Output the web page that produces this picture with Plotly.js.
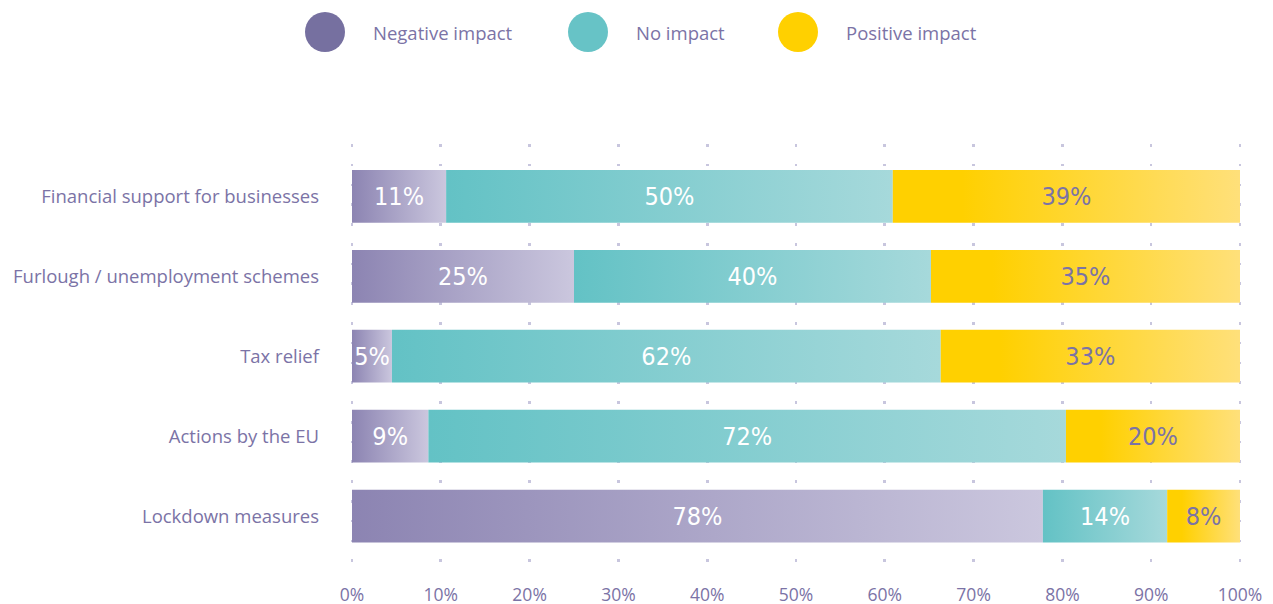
<!DOCTYPE html>
<html>
<head>
<meta charset="utf-8">
<script src="https://cdn.plot.ly/plotly-3.0.1.min.js"></script>
<style>html,body{margin:0;padding:0;background:#fff;}#chart{width:1273px;height:604px;}</style>
</head>
<body>
<div id="chart"></div>
<script>
// ---- data ----
const categories = ["Financial support for businesses", "Furlough / unemployment schemes", "Tax relief", "Actions by the EU", "Lockdown measures"];
const seriesNames = ["Negative impact", "No impact", "Positive impact"];
const negativeValues = [10.6, 25.0, 4.5, 8.6, 77.8];
const noImpactValues = [50.3, 40.2, 61.8, 71.8, 14.0];
const positiveValues = [39.1, 34.8, 33.7, 19.6, 8.2];
const negativeLabels = ["11%", "25%", "5%", "9%", "78%"];
const noImpactLabels = ["50%", "40%", "62%", "72%", "14%"];
const positiveLabels = ["39%", "35%", "33%", "20%", "8%"];
const xTickVals = [0, 10, 20, 30, 40, 50, 60, 70, 80, 90, 100];
const xTickText = ["0%", "10%", "20%", "30%", "40%", "50%", "60%", "70%", "80%", "90%", "100%"];

// ---- styles ----
const textColor = "#7b73a6";
const legendColors = ["#7670a0", "#67c3c6", "#ffd000"];
const gradients = [
  [[0, "#8c84b2"], [1, "#cbc7de"]],
  [[0, "#63c2c5"], [1, "#a6d9db"]],
  [[0, "#ffd000"], [0.2, "#ffd000"], [1, "#ffe07a"]]
];
const labelColors = ["#ffffff", "#ffffff", textColor];
const halfBar = 0.33;
const labelDrop = 0.035;

const series = [negativeValues, noImpactValues, positiveValues];
const seriesLabels = [negativeLabels, noImpactLabels, positiveLabels];

const traces = [];
const starts = categories.map(() => 0);
const labelTraces = [];
series.forEach((vals, s) => {
  const mx = [], my = [], mt = [];
  vals.forEach((v, i) => {
    const a = starts[i], b = a + v;
    traces.push({
      type: "scatter", mode: "lines",
      x: [a, b, b, a, a],
      y: [i - halfBar, i - halfBar, i + halfBar, i + halfBar, i - halfBar],
      fill: "toself",
      fillcolor: gradients[s][0][1],
      fillgradient: { type: "horizontal", colorscale: gradients[s] },
      line: { width: 0 },
      hoverinfo: "skip",
      showlegend: false,
      name: seriesNames[s]
    });
    mx.push((a + b) / 2); my.push(i + labelDrop); mt.push(seriesLabels[s][i]);
    starts[i] = b;
  });
  labelTraces.push({
    type: "scatter", mode: "text",
    x: mx, y: my, text: mt,
    textposition: "middle center",
    textfont: { family: "'Liberation Sans Narrow', 'DejaVu Sans Condensed', Roboto, sans-serif", size: 25, color: labelColors[s] },
    hoverinfo: "skip", showlegend: false, name: seriesNames[s]
  });
});

// ---- legend (shapes + annotations) ----
const plotLeft = 349, plotW = 894, plotTop = 144, plotH = 419;
const xPad = 0.338;
const px2x = p => (p - plotLeft) / plotW;
const py2y = p => (plotTop + plotH - p) / plotH;
const legendCircleX = [325, 588, 798];
const legendTextX = [371, 634, 844];
const legendY = 32;
const shapes = [], annotations = [];
seriesNames.forEach((n, k) => {
  shapes.push({
    type: "circle", xref: "paper", yref: "paper",
    xsizemode: "pixel", ysizemode: "pixel",
    xanchor: px2x(legendCircleX[k]), yanchor: py2y(legendY),
    x0: -20, x1: 20, y0: -20, y1: 20,
    fillcolor: legendColors[k], line: { width: 0 }
  });
  annotations.push({
    xref: "paper", yref: "paper", x: px2x(legendTextX[k]), y: py2y(legendY),
    xanchor: "left", yanchor: "middle", showarrow: false, text: n,
    font: { family: "'Open Sans', sans-serif", size: 18.5, color: textColor }
  });
});

const layout = {
  width: 1273, height: 604,
  margin: { l: plotLeft, r: 1273 - plotLeft - plotW, t: plotTop, b: 604 - plotTop - plotH, pad: 0 },
  paper_bgcolor: "#ffffff", plot_bgcolor: "#ffffff",
  showlegend: false,
  xaxis: {
    range: [-xPad, 100 + xPad], tickvals: xTickVals, ticktext: xTickText,
    showgrid: true, gridcolor: "#c8c6de", gridwidth: 2.6, griddash: "2.6px,17.18px",
    zeroline: false, showline: false, ticks: "",
    ticklabelstandoff: 19,
    tickfont: { family: "'Open Sans', sans-serif", size: 17.5, color: textColor },
    fixedrange: true
  },
  yaxis: {
    range: [4.5875, -0.656], tickvals: categories.map((c, i) => i), ticktext: categories,
    showgrid: false, zeroline: false, showline: false, ticks: "",
    ticklabelstandoff: 29,
    tickfont: { family: "'Open Sans', sans-serif", size: 18.5, color: textColor },
    fixedrange: true
  },
  shapes: shapes,
  annotations: annotations
};

Plotly.newPlot("chart", traces.concat(labelTraces), layout, { displayModeBar: false, staticPlot: true });
</script>
</body>
</html>
